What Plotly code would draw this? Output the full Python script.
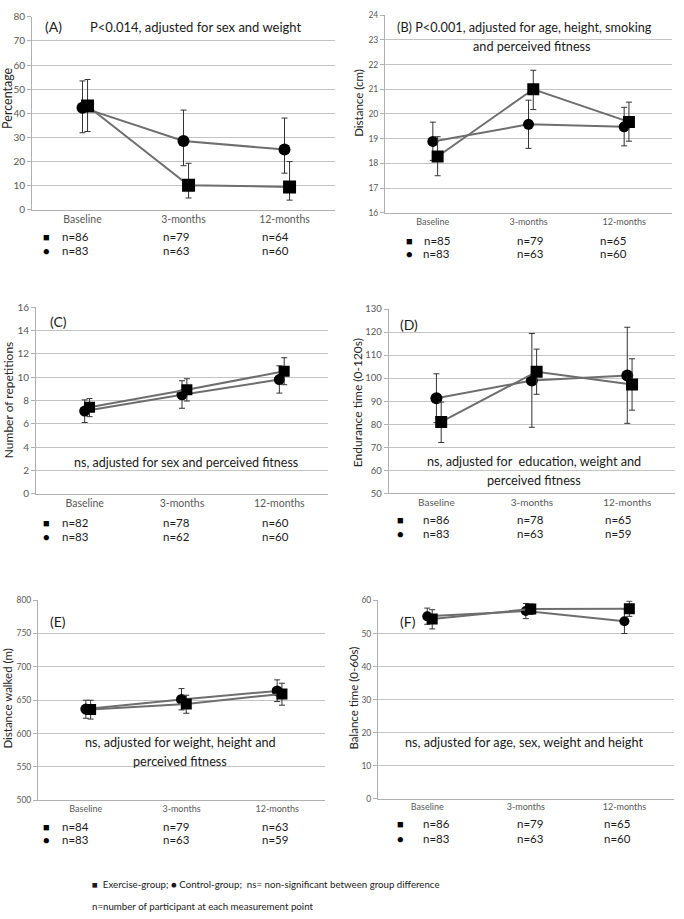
import plotly.graph_objects as go

W, H = 684, 919

categories = ["Baseline", "3-months", "12-months"]

# (A) Percentage
A_ex = [43.0, 10.1, 9.4]
A_ex_hi = [54.0, 19.2, 19.9]
A_ex_lo = [32.4, 4.8, 3.9]
A_ct = [42.3, 28.5, 24.9]
A_ct_hi = [53.4, 41.3, 38.0]
A_ct_lo = [31.9, 18.2, 15.1]
A_n_ex = [86, 79, 64]
A_n_ct = [83, 63, 60]

# (B) Distance (cm)
B_ex = [18.28, 21.0, 19.68]
B_ex_hi = [19.08, 21.77, 20.48]
B_ex_lo = [17.5, 20.18, 18.9]
B_ct = [18.89, 19.58, 19.48]
B_ct_hi = [19.67, 20.56, 20.27]
B_ct_lo = [18.12, 18.61, 18.71]
B_n_ex = [85, 79, 65]
B_n_ct = [83, 63, 60]

# (C) Number of repetitions
C_ex = [7.42, 8.92, 10.52]
C_ex_hi = [8.17, 9.87, 11.68]
C_ex_lo = [6.62, 7.96, 9.36]
C_ct = [7.1, 8.5, 9.8]
C_ct_hi = [8.06, 9.7, 10.98]
C_ct_lo = [6.12, 7.34, 8.64]
C_n_ex = [82, 78, 60]
C_n_ct = [83, 62, 60]

# (D) Endurance time
D_ex = [81.0, 102.8, 97.3]
D_ex_hi = [89.6, 112.6, 108.4]
D_ex_lo = [72.1, 93.0, 86.1]
D_ct = [91.3, 99.0, 101.2]
D_ct_hi = [101.9, 119.4, 122.1]
D_ct_lo = [80.7, 78.7, 80.4]
D_n_ex = [86, 78, 65]
D_n_ct = [83, 63, 59]

# (E) Distance walked
E_ex = [636.0, 644.5, 659.5]
E_ex_hi = [650.0, 657.5, 675.5]
E_ex_lo = [621.8, 630.5, 642.6]
E_ct = [636.8, 651.2, 664.0]
E_ct_hi = [650.0, 667.4, 680.5]
E_ct_lo = [623.0, 635.5, 648.0]
E_n_ex = [84, 79, 63]
E_n_ct = [83, 63, 59]

# (F) Balance time
F_ex = [54.4, 57.4, 57.5]
F_ex_hi = [57.2, 58.9, 59.8]
F_ex_lo = [51.4, 55.8, 55.2]
F_ct = [55.2, 56.8, 53.7]
F_ct_hi = [57.7, 59.1, 57.4]
F_ct_lo = [52.8, 54.5, 50.0]
F_n_ex = [86, 79, 65]
F_n_ct = [83, 63, 60]

FONT = "Lato, Liberation Sans, sans-serif"
TXT = "#1a1a1a"
GREY = "#595959"


def px(x):
    return x / W


def py(y):
    return 1 - y / H


panels = [
    dict(ex=A_ex, ex_hi=A_ex_hi, ex_lo=A_ex_lo, ct=A_ct, ct_hi=A_ct_hi, ct_lo=A_ct_lo,
         n_ex=A_n_ex, n_ct=A_n_ct, yr=[0, 80], dt=10, yt="Percentage",
         xd=(32, 335), yd=(11, 206), tf=10, ms=(13, 12), sym=(46, 233, 247),
         ncx=(75, 176, 275), yt_pos=(8, 93), yt_fs=12.5),
    dict(ex=B_ex, ex_hi=B_ex_hi, ex_lo=B_ex_lo, ct=B_ct, ct_hi=B_ct_hi, ct_lo=B_ct_lo,
         n_ex=B_n_ex, n_ct=B_n_ct, yr=[16, 24], dt=1, yt="Distance (cm)",
         xd=(385, 672), yd=(9.3, 209.3), tf=8.5, ms=(12, 11), sym=(409, 237, 251),
         ncx=(437, 530, 613), yt_pos=(359, 98), yt_fs=11.5),
    dict(ex=C_ex, ex_hi=C_ex_hi, ex_lo=C_ex_lo, ct=C_ct, ct_hi=C_ct_hi, ct_lo=C_ct_lo,
         n_ex=C_n_ex, n_ct=C_n_ct, yr=[0, 16], dt=2, yt="Number of repetitions",
         xd=(36, 328), yd=(305, 493.7), tf=10, ms=(11, 11), sym=(46, 523, 537),
         ncx=(75, 176, 275), yt_pos=(8, 399), yt_fs=12),
    dict(ex=D_ex, ex_hi=D_ex_hi, ex_lo=D_ex_lo, ct=D_ct, ct_hi=D_ct_hi, ct_lo=D_ct_lo,
         n_ex=D_n_ex, n_ct=D_n_ct, yr=[50, 130], dt=10, yt="Endurance time (0-120s)",
         xd=(388.7, 675), yd=(306.7, 493.3), tf=9.5, ms=(12, 12), sym=(400, 520, 534),
         ncx=(436, 530, 618), yt_pos=(357, 401), yt_fs=12),
    dict(ex=E_ex, ex_hi=E_ex_hi, ex_lo=E_ex_lo, ct=E_ct, ct_hi=E_ct_hi, ct_lo=E_ct_lo,
         n_ex=E_n_ex, n_ct=E_n_ct, yr=[500, 800], dt=50, yt="Distance walked (m)",
         xd=(38, 325), yd=(601.3, 804), tf=8.5, ms=(11, 11), sym=(46, 830, 844),
         ncx=(75, 176, 275), yt_pos=(8, 701), yt_fs=11.5),
    dict(ex=F_ex, ex_hi=F_ex_hi, ex_lo=F_ex_lo, ct=F_ct, ct_hi=F_ct_hi, ct_lo=F_ct_lo,
         n_ex=F_n_ex, n_ct=F_n_ct, yr=[0, 60], dt=10, yt="Balance time (0-60s)",
         xd=(378, 673.7), yd=(601.7, 802.3), tf=8.5, ms=(11, 10), sym=(400, 827.7, 842.3),
         ncx=(436, 530, 617), yt_pos=(354, 701), yt_fs=11.5),
]

fig = go.Figure()
annotations = []
layout = {}

for i, p in enumerate(panels):
    k = "" if i == 0 else str(i + 1)
    xa, ya = "x" + k, "y" + k
    xpos = [0, 1, 2]
    # Control group (circle)
    fig.add_trace(go.Scatter(
        x=xpos, y=p["ct"], xaxis=xa, yaxis=ya, mode="lines+markers",
        name="Control-group", showlegend=False,
        line=dict(color="#6e6e6e", width=2),
        marker=dict(symbol="circle", size=p["ms"][1], color="black"),
        error_y=dict(type="data", symmetric=False,
                     array=[h - v for h, v in zip(p["ct_hi"], p["ct"])],
                     arrayminus=[v - l for v, l in zip(p["ct"], p["ct_lo"])],
                     color="#333333", thickness=1, width=3),
    ))
    # Exercise group (square)
    fig.add_trace(go.Scatter(
        x=[x + 0.05 for x in xpos], y=p["ex"], xaxis=xa, yaxis=ya, mode="lines+markers",
        name="Exercise-group", showlegend=False,
        line=dict(color="#6e6e6e", width=2),
        marker=dict(symbol="square", size=p["ms"][0], color="black"),
        error_y=dict(type="data", symmetric=False,
                     array=[h - v for h, v in zip(p["ex_hi"], p["ex"])],
                     arrayminus=[v - l for v, l in zip(p["ex"], p["ex_lo"])],
                     color="#333333", thickness=1, width=3),
    ))
    layout["xaxis" + k] = dict(
        domain=[px(p["xd"][0]), px(p["xd"][1])], anchor=ya,
        range=[-0.5, 2.5], tickvals=[0, 1, 2], ticktext=categories,
        showgrid=False, zeroline=False, showline=True, linecolor="#b0b0b0",
        linewidth=1, ticks="", ticklabelstandoff=0,
        tickfont=dict(family=FONT, size=p["tf"] + 0.5, color=GREY),
        fixedrange=True,
    )
    layout["yaxis" + k] = dict(
        domain=[py(p["yd"][1]), py(p["yd"][0])], anchor=xa,
        range=p["yr"], dtick=p["dt"], tick0=p["yr"][0],
        showgrid=True, gridcolor="#c4c4c4", gridwidth=1, zeroline=False,
        showline=True, linecolor="#b0b0b0", linewidth=1,
        ticks="outside", ticklen=4, tickcolor="#b0b0b0",
        tickfont=dict(family=FONT, size=p["tf"], color=GREY),
        fixedrange=True,
    )
    # y-axis title
    annotations.append(dict(x=px(p["yt_pos"][0]), y=py(p["yt_pos"][1]),
                            xref="paper", yref="paper", text=p["yt"], textangle=-90,
                            showarrow=False, xanchor="center", yanchor="middle",
                            font=dict(family=FONT, size=p["yt_fs"], color="#262626")))
    # n rows
    sx, y1, y2 = p["sym"]
    annotations.append(dict(x=px(sx), y=py(y1), xref="paper", yref="paper", text="■",
                            showarrow=False, font=dict(size=11, color="black"),
                            xanchor="center", yanchor="middle"))
    annotations.append(dict(x=px(sx), y=py(y2), xref="paper", yref="paper", text="●",
                            showarrow=False, font=dict(size=11, color="black"),
                            xanchor="center", yanchor="middle"))
    for j in range(3):
        annotations.append(dict(x=px(p["ncx"][j]), y=py(y1), xref="paper", yref="paper",
                                text="n=%d" % p["n_ex"][j], showarrow=False,
                                font=dict(family=FONT, size=11.5, color=TXT),
                                xanchor="center", yanchor="middle"))
        annotations.append(dict(x=px(p["ncx"][j]), y=py(y2), xref="paper", yref="paper",
                                text="n=%d" % p["n_ct"][j], showarrow=False,
                                font=dict(family=FONT, size=11.5, color=TXT),
                                xanchor="center", yanchor="middle"))

# Panel texts (x_px, y_px, text, anchor, size)
panel_texts = [
    (43, 21, "(A)", "left", 14),
    (195, 21, "P<0.014, adjusted for sex and weight", "center", 13),
    (395, 21, "(B) P<0.001, adjusted for age, height, smoking", "left", 12.7),
    (532, 40, "and perceived fitness", "center", 12.7),
    (48, 319, "(C)", "left", 14),
    (186, 462, "ns, adjusted for sex and perceived fitness", "center", 12.5),
    (398, 322, "(D)", "left", 14),
    (534, 461, "ns, adjusted for  education, weight and", "center", 12.7),
    (534, 480, "perceived fitness", "center", 12.7),
    (48, 623, "(E)", "left", 14),
    (180, 745, "ns, adjusted for weight, height and", "center", 12.7),
    (180, 764, "perceived fitness", "center", 12.7),
    (398, 623, "(F)", "left", 14),
    (524, 745, "ns, adjusted for age, sex, weight and height", "center", 12.7),
]
for x, y, t, anc, fs in panel_texts:
    annotations.append(dict(x=px(x), y=py(y), xref="paper", yref="paper", text=t,
                            showarrow=False, xanchor=anc, yanchor="middle",
                            font=dict(family=FONT, size=fs, color=TXT)))

# Footer
annotations.append(dict(x=px(90), y=py(889), xref="paper", yref="paper",
                        text="■  Exercise-group; ● Control-group;  ns= non-significant between group difference",
                        showarrow=False, xanchor="left", yanchor="middle",
                        font=dict(family=FONT, size=9.7, color=TXT)))
annotations.append(dict(x=px(90), y=py(911), xref="paper", yref="paper",
                        text="n=number of participant at each measurement point",
                        showarrow=False, xanchor="left", yanchor="middle",
                        font=dict(family=FONT, size=9.7, color=TXT)))

fig.update_layout(
    width=W, height=H, margin=dict(l=0, r=0, t=0, b=0),
    paper_bgcolor="white", plot_bgcolor="white",
    showlegend=False, annotations=annotations,
    font=dict(family=FONT),
    **layout,
)

fig.write_html("out.html", config={"displayModeBar": False},
               post_script="document.body.style.margin='0px';")
